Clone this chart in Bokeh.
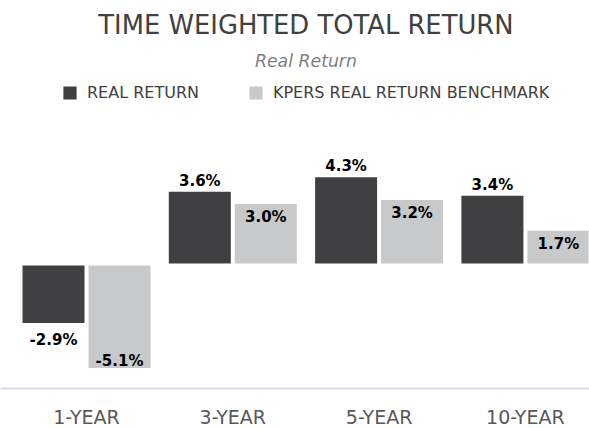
import numpy as np
from bokeh.plotting import figure
from bokeh.models import ColumnDataSource, Range1d, FixedTicker, Label, Legend, LegendItem
from bokeh.core.properties import value
from bokeh.embed import file_html
from bokeh.resources import INLINE

# ---- data ----
categories = ["1-YEAR", "3-YEAR", "5-YEAR", "10-YEAR"]
real_return = [-2.9, 3.6, 4.3, 3.4]
benchmark = [-5.1, 3.0, 3.2, 1.7]
series_names = ["REAL RETURN", "KPERS REAL RETURN BENCHMARK"]
title_text = "TIME WEIGHTED TOTAL RETURN"
subtitle_text = "Real Return"

# ---- style / layout ----
DARK = "#404042"
LIGHT = "#c8c9cb"
FONT = "DejaVu Sans"
W = 589
FRAME_H = 388
AXIS_H = 40
ZERO_Y = 264.0      # px from top of frame where value 0 sits
PPU = 20.5          # px per 1 %
CAT_PX = 146.3      # px per category
FIRST_CAT_X = 86.0  # px from frame left to first category centre
BAR_W = 64.0 / CAT_PX
BAR_OFF = 33.0 / CAT_PX

idx = np.arange(len(categories), dtype=float)
x_start = -FIRST_CAT_X / CAT_PX
x_end = x_start + W / CAT_PX
y_end = ZERO_Y / PPU
y_start = -(FRAME_H - ZERO_Y) / PPU

p = figure(frame_width=W, frame_height=FRAME_H,
           x_range=Range1d(x_start, x_end), y_range=Range1d(y_start, y_end),
           output_backend="svg", toolbar_location=None,
           min_border_left=0, min_border_right=0, min_border_top=0,
           min_border_bottom=AXIS_H, y_axis_location=None)
p.outline_line_color = None
p.xgrid.grid_line_color = None
p.ygrid.grid_line_color = None
p.background_fill_color = "white"
p.border_fill_color = "white"

def fmt(v):
    return f"{v:.1f}%"

rr = np.array(real_return)
bm = np.array(benchmark)

# dark series: labels outside the bar end; light series: inside the bar end
src_dark = ColumnDataSource(dict(
    x=idx - BAR_OFF, top=rr,
    label=[fmt(v) for v in rr],
    yoff=np.where(rr >= 0, -10, 16)))
src_light = ColumnDataSource(dict(
    x=idx + BAR_OFF, top=bm,
    label=[fmt(v) for v in bm],
    yoff=np.where(bm >= 0, 14, -8)))

r1 = p.vbar(x="x", top="top", bottom=0, width=BAR_W, source=src_dark,
            fill_color=DARK, line_color="white", line_width=2)
r2 = p.vbar(x="x", top="top", bottom=0, width=BAR_W, source=src_light,
            fill_color=LIGHT, line_color="white", line_width=2)

for src in (src_dark, src_light):
    p.text(x="x", y="top", text="label", source=src, y_offset="yoff",
           text_align="center", text_baseline="alphabetic",
           text_font=value(FONT), text_font_style="bold",
           text_font_size="15px", text_color="#000000")

# x axis
ax = p.xaxis[0]
ax.ticker = FixedTicker(ticks=list(idx))
ax.major_label_overrides = {float(i): c for i, c in zip(idx, categories)}
ax.axis_line_color = "#d6dcec"
ax.axis_line_width = 2
ax.major_tick_line_color = None
ax.minor_tick_line_color = None
ax.major_tick_out = 0
ax.major_tick_in = 0
ax.minor_tick_out = 0
ax.minor_tick_in = 0
ax.major_label_standoff = 17
ax.major_label_text_font = FONT
ax.major_label_text_font_size = "19px"
ax.major_label_text_color = "#595959"

# titles (centred on the middle of the categories)
cx = float(idx.mean())
p.add_layout(Label(x=cx, y=(ZERO_Y - 24) / PPU, text=title_text,
                   text_align="center", text_baseline="alphabetic",
                   text_font=FONT, text_font_size="25.8px", text_color="#404040"))
p.add_layout(Label(x=cx, y=(ZERO_Y - 60) / PPU, text=subtitle_text,
                   text_align="center", text_baseline="alphabetic",
                   text_font=FONT, text_font_style="italic",
                   text_font_size="17.3px", text_color="#7f7f7f"))

legend = Legend(items=[LegendItem(label=series_names[0], renderers=[r1]),
                       LegendItem(label=series_names[1], renderers=[r2])],
                orientation="horizontal", location=(60, 286),
                padding=0, margin=0, spacing=47,
                glyph_width=19, glyph_height=19, label_standoff=8,
                label_height=19,
                label_text_font=FONT, label_text_font_size="16px",
                label_text_color="#404040",
                border_line_color=None, background_fill_alpha=0)
p.add_layout(legend)

open("out.html", "w").write(file_html(p, INLINE))
